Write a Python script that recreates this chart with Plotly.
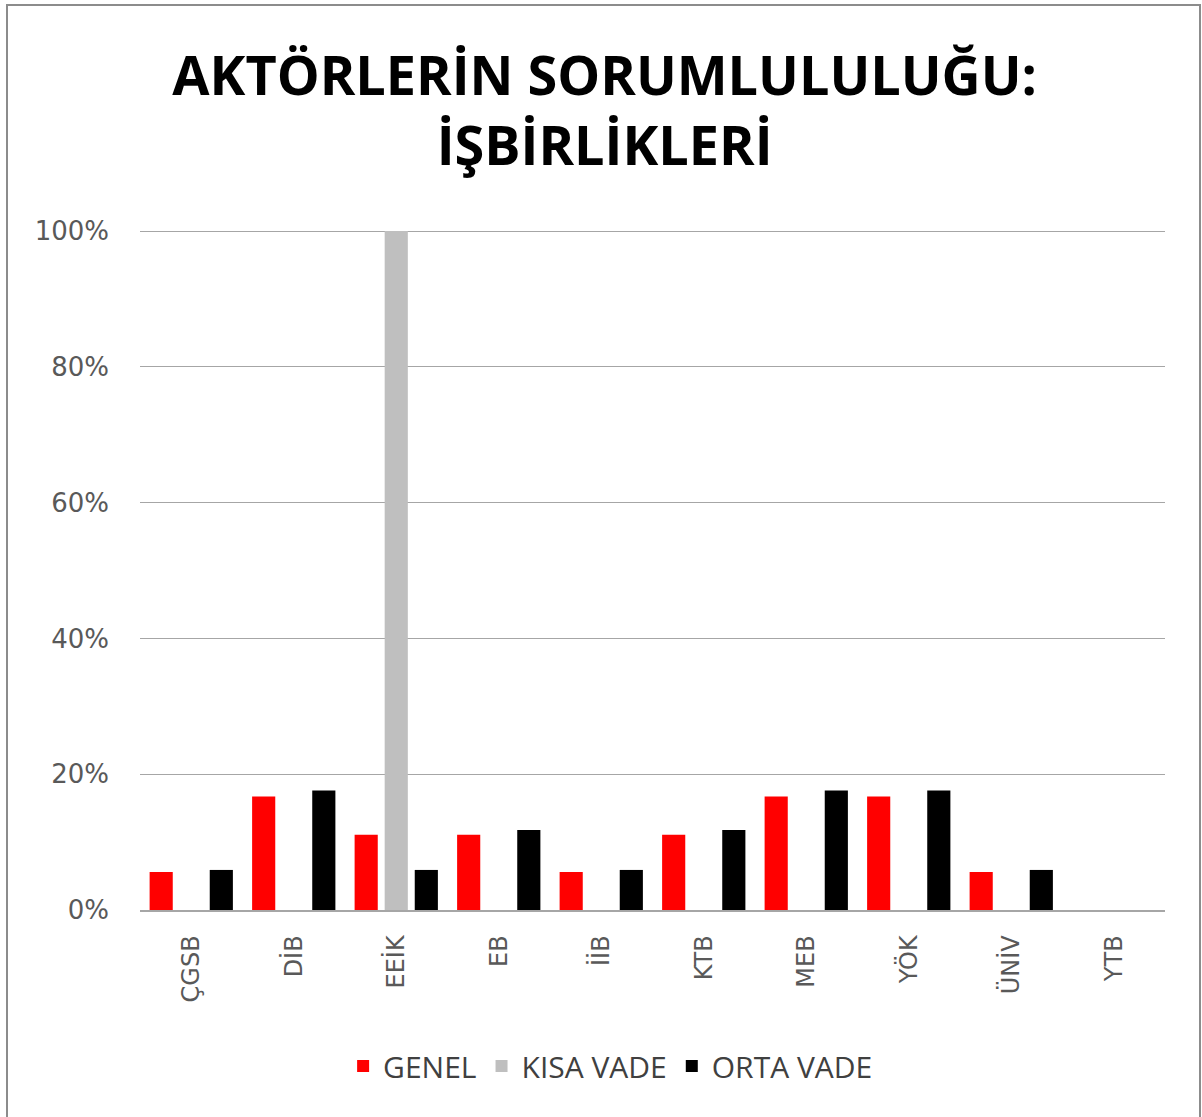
import plotly.graph_objects as go

categories = ["ÇGSB", "DİB", "EEİK", "EB", "İİB", "KTB", "MEB", "YÖK", "ÜNİV", "YTB"]
genel = [0.056, 0.167, 0.111, 0.111, 0.056, 0.111, 0.167, 0.167, 0.056, 0.0]
kisa_vade = [0.0, 0.0, 1.0, 0.0, 0.0, 0.0, 0.0, 0.0, 0.0, 0.0]
orta_vade = [0.059, 0.176, 0.059, 0.118, 0.059, 0.118, 0.176, 0.176, 0.059, 0.0]
y_ticks = [0, 0.2, 0.4, 0.6, 0.8, 1.0]

W, H = 1202, 1117
L, R, T, B = 140, 37, 229, 207
PW, PH = W - L - R, H - T - B

fig = go.Figure()
fig.add_trace(go.Bar(name="GENEL", x=categories, y=genel, marker_color="#FF0000", marker_line_width=0))
fig.add_trace(go.Bar(name="KISA VADE", x=categories, y=kisa_vade, marker_color="#BFBFBF", marker_line_width=0))
fig.add_trace(go.Bar(name="ORTA VADE", x=categories, y=orta_vade, marker_color="#000000", marker_line_width=0))

fig.update_layout(
    width=W, height=H,
    paper_bgcolor="white", plot_bgcolor="white",
    margin=dict(l=L, r=R, t=T, b=B),
    barmode="group", bargap=0.12, bargroupgap=0.23,
    title=dict(
        text="<b>AKTÖRLERİN SORUMLULULUĞU:<br>İŞBİRLİKLERİ</b>",
        x=0.503, xanchor="center", xref="container",
        y=1 - 95 / H, yanchor="top", yref="container",
        font=dict(family="Open Sans", size=54, color="#000000"),
    ),
    font=dict(family="Open Sans", color="#595959"),
    showlegend=True,
    legend=dict(
        orientation="h", x=0.508, xanchor="center", xref="container",
        y=1 - 1066 / H, yanchor="middle", yref="container",
        font=dict(family="Open Sans", size=30, color="#404040"),
        traceorder="normal",
    ),
    xaxis=dict(
        tickangle=-90, tickfont=dict(family="DejaVu Sans", size=24, color="#595959"),
        showline=True, linecolor="#A6A6A6", linewidth=1.5,
        ticks="", showgrid=False, ticklabelstandoff=14,
    ),
    yaxis=dict(
        range=[0, 1.003], tickvals=y_ticks, tickformat=".0%",
        tickfont=dict(family="DejaVu Sans", size=26, color="#595959"),
        showgrid=True, gridcolor="#A6A6A6", gridwidth=1,
        zeroline=False, showline=False, ticks="", ticklabelstandoff=30,
    ),
    shapes=[dict(type="rect", xref="paper", yref="paper",
                 x0=(7 - L) / PW, x1=(1200 - L) / PW,
                 y0=-(B + 20) / PH, y1=1 + (T - 5) / PH,
                 line=dict(color="#8C8C8C", width=2), fillcolor="rgba(0,0,0,0)")],
)

fig.write_html("out.html", config={"displayModeBar": False},
               post_script="document.body.style.margin='0';document.body.style.overflow='hidden';")
